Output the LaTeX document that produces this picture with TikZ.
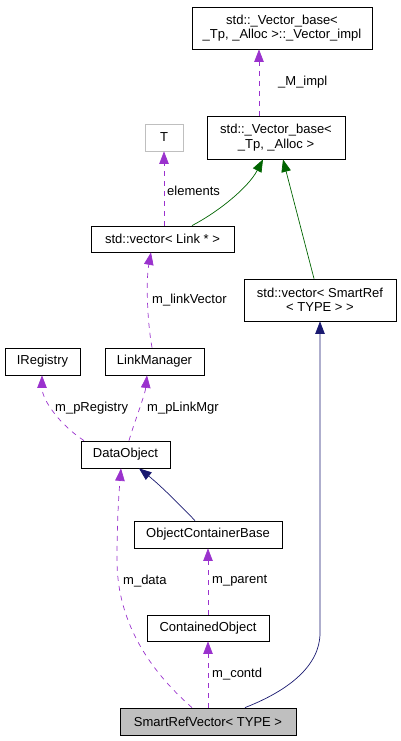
\documentclass[tikz,border=0pt]{standalone}
\usepackage{fontspec}
\setmainfont{Liberation Sans}
\usetikzlibrary{arrows.meta,calc}
\definecolor{edgepurple}{HTML}{9A32CD}
\definecolor{edgegreen}{HTML}{006400}
\definecolor{edgenavy}{HTML}{191970}
\definecolor{boxgray}{HTML}{BFBFBF}
\begin{document}
\begin{tikzpicture}[x=1pt,y=-1pt,
  box/.style={draw=black,line width=0.8pt,fill=white,inner sep=0pt,align=center,font=\fontsize{13}{14.5}\selectfont},
  lbl/.style={anchor=west,inner sep=0pt,font=\fontsize{13}{14.5}\selectfont},
  usage/.style={-{Triangle[length=12.5pt,width=9.5pt,fill=edgepurple]},draw=edgepurple,line width=0.7pt,dash pattern=on 5pt off 5pt},
  inhgreen/.style={-{Triangle[length=12.5pt,width=9.5pt,fill=edgegreen]},draw=edgegreen,line width=0.7pt},
  inhnavy/.style={-{Triangle[length=12.5pt,width=9.5pt,fill=edgenavy]},draw=edgenavy,line width=0.7pt}]
\useasboundingbox (0,0) rectangle (401,741);
% nodes
\node[box,minimum width=180pt,minimum height=42pt] (VImpl) at (282,28) {std::\_Vector\_base<\\ \_Tp, \_Alloc >::\_Vector\_impl};
\node[box,minimum width=138pt,minimum height=43pt] (VBase) at (276,137.5) {std::\_Vector\_base<\\ \_Tp, \_Alloc >};
\node[box,draw=boxgray,minimum width=38pt,minimum height=27pt] (T) at (164,137.5) {T};
\node[box,minimum width=143pt,minimum height=26pt] (VLink) at (162.5,239) {std::vector< Link * >};
\node[box,minimum width=152pt,minimum height=42pt] (VSmart) at (320,300) {std::vector< SmartRef\\ < TYPE > >};
\node[box,minimum width=75pt,minimum height=27pt] (IReg) at (42.5,361.5) {IRegistry};
\node[box,minimum width=99pt,minimum height=27pt] (LMgr) at (154.5,361.5) {LinkManager};
\node[box,minimum width=89pt,minimum height=27pt] (DObj) at (125.5,454.5) {DataObject};
\node[box,minimum width=148pt,minimum height=27pt] (OCB) at (208,534.5) {ObjectContainerBase};
\node[box,minimum width=122pt,minimum height=26pt] (CObj) at (208,628) {ContainedObject};
\node[box,fill=boxgray,minimum width=176pt,minimum height=27pt] (SRV) at (208,721.5) {SmartRefVector< TYPE >};
% edges
\draw[usage] ($(VBase.north)+(-17,0)$) -- ($(VImpl.south)+(-23,0)$);
\node[lbl] (lMimpl) at (278,82) {\_M\_impl};
\draw[inhgreen] ($(VLink.north)+(29.5,0)$) .. controls (218,212) and (248,188) .. ($(VBase.south)+(-13,0)$);
\draw[inhgreen] ($(VSmart.north)+(-6,0)$) -- ($(VBase.south)+(7,0)$);
\draw[usage] ($(VLink.north)+(1.5,0)$) -- ($(T.south)+(0,0)$);
\node[lbl] (lElem) at (167,191) {elements};
\draw[usage] ($(LMgr.north)+(-2.5,0)$) .. controls (147,320) and (146,280) .. ($(VLink.south)+(-11.5,0)$);
\node[lbl] (lLV) at (152,300) {m\_linkVector};
\draw[usage] ($(DObj.north)+(-41.5,0)$) .. controls (60,425) and (42,400) .. ($(IReg.south)+(-0.5,0)$);
\node[lbl] (lReg) at (55,408) {m\_pRegistry};
\draw[usage] ($(DObj.north)+(3.5,0)$) .. controls (135,420) and (145,395) .. ($(LMgr.south)+(-7.5,0)$);
\node[lbl] (lLM) at (147,408) {m\_pLinkMgr};
\draw[inhnavy] ($(OCB.north)+(-13,0)$) .. controls (180,505) and (160,485) .. ($(DObj.south)+(13.5,0)$);
\draw[usage] (CObj.north) -- (OCB.south);
\node[lbl] (lPar) at (212,581) {m\_parent};
\draw[usage] ($(SRV.north)+(-16,0)$) .. controls (140,662) and (117,612) .. (117,560) .. controls (117,520) and (119,492) .. ($(DObj.south)+(-4.5,0)$);
\node[lbl] (lData) at (123,581) {m\_data};
\draw[usage] (SRV.north) -- (CObj.south);
\node[lbl] (lCont) at (212,674) {m\_contd};
\draw[inhnavy] ($(SRV.north)+(37,0)$) .. controls (290,690) and (320,665) .. (320,633) -- (VSmart.south);
\end{tikzpicture}
\end{document}
